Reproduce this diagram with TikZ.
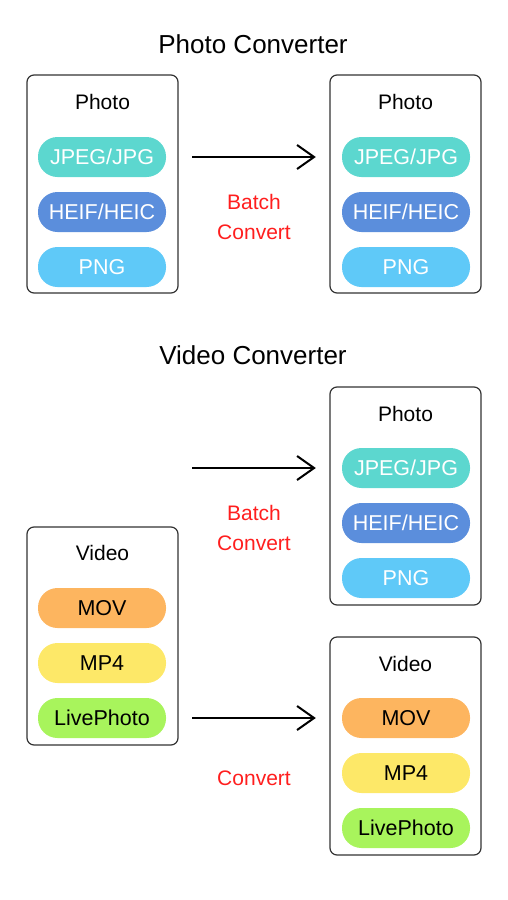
\documentclass[tikz,border=0pt]{standalone}
\usepackage{fontspec}
\setmainfont{Liberation Sans}
\usetikzlibrary{arrows.meta}

\definecolor{jpgcol}{HTML}{5CD7CF}
\definecolor{heifcol}{HTML}{5B8EDC}
\definecolor{pngcol}{HTML}{5FC9F8}
\definecolor{movcol}{HTML}{FDB55F}
\definecolor{mpcol}{HTML}{FDE868}
\definecolor{livecol}{HTML}{A8F45C}
\definecolor{convred}{HTML}{FF1E1E}

\tikzset{
  panel/.style={draw=black!80, line width=1.2pt, rounded corners=7pt, minimum width=151pt, minimum height=218pt},
  pill/.style={rounded corners=19.5pt, minimum width=128pt, minimum height=40pt, inner sep=0pt, font=\fontsize{21.5}{24}\selectfont},
  photopill/.style={pill, text=white},
  videopill/.style={pill, text=black},
  heading/.style={font=\fontsize{21}{24}\selectfont},
  title/.style={font=\fontsize{26}{30}\selectfont},
  redtext/.style={text=convred, font=\fontsize{21}{30}\selectfont, align=center},
  conv/.style={-{Straight Barb[length=17pt,width=24pt,line width=2pt]}, line width=2pt, shorten <=26pt, shorten >=26pt}
}

\begin{document}
\begin{tikzpicture}[x=1pt,y=-1pt]
	\useasboundingbox (0,0) rectangle (507,900);
	% ---- photo converter ----
	\node[title] (phototitle) at (253,44) {Photo Converter};
	\node[panel] (photoin) at (102.5,184) {};
	\node[heading] (photoinlbl) at (102.5,102) {Photo};
	\node[panel] (photoout) at (405.5,184) {};
	\node[heading] (photooutlbl) at (405.5,102) {Photo};
	\foreach \x/\side in {102/in, 406/out} {
		\node[photopill, fill=jpgcol] (jpg\side) at (\x,157) {JPEG/JPG};
		\node[photopill, fill=heifcol] (heif\side) at (\x,212) {HEIF/HEIC};
		\node[photopill, fill=pngcol] (png\side) at (\x,267) {PNG};
	}
	% arrow
	\draw[conv] (jpgin.east) -- (jpgout.west);
	\node[redtext] (batchA) at (254,217) {Batch\\Convert};

	% ---- video converter ----
	\node[title] (videotitle) at (253,355) {Video Converter};
	% photo output
	\node[panel] (vphotoout) at (405.5,496) {};
	\node[heading] (vphotolbl) at (405.5,414) {Photo};
	\node[photopill, fill=jpgcol] (vjpg) at (406,468) {JPEG/JPG};
	\node[photopill, fill=heifcol] (vheif) at (406,523) {HEIF/HEIC};
	\node[photopill, fill=pngcol] (vpng) at (406,578) {PNG};
	% video input and output
	\node[panel] (videoin) at (102.5,636) {};
	\node[heading] (videoinlbl) at (102.5,553) {Video};
	\node[panel] (videoout) at (405.5,746) {};
	\node[heading] (videooutlbl) at (405.5,664) {Video};
	\foreach \x/\y/\side in {102/608/in, 406/718/out} {
		\node[videopill, fill=movcol] (mov\side) at (\x,\y) {MOV};
		\node[videopill, fill=mpcol] (mp\side) at (\x,\y+55) {MP4};
		\node[videopill, fill=livecol] (live\side) at (\x,\y+110) {LivePhoto};
	}
	% arrows
	\coordinate (batchstart) at (166,468);
	\draw[conv] (batchstart) -- (vjpg.west);
	\node[redtext] (batchB) at (254,528) {Batch\\Convert};
	\draw[conv] (livein.east) -- (movout.west);
	\node[redtext] (convC) at (254,778) {Convert};
\end{tikzpicture}
\end{document}
